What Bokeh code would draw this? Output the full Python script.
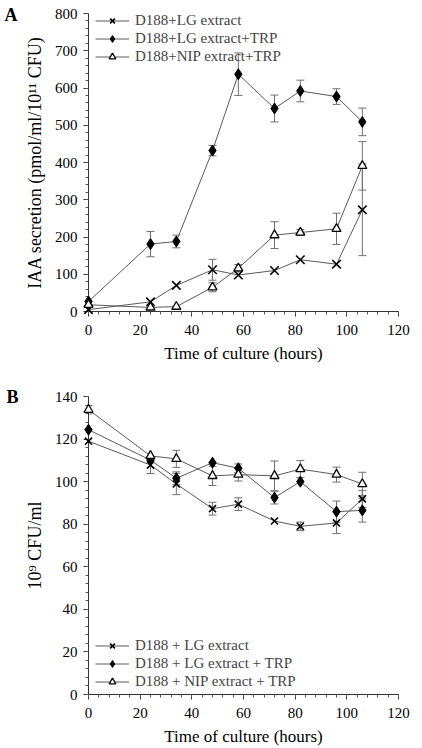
from bokeh.plotting import figure
from bokeh.models import (ColumnDataSource, Whisker, TeeHead, Legend, LegendItem,
                          SingleIntervalTicker)
from bokeh.core.properties import value
from bokeh.layouts import column
from bokeh.embed import file_html
from bokeh.resources import INLINE

# ---- data ----
hours = [0, 24, 34, 48, 58, 72, 82, 96, 106]

# Panel A: IAA secretion (pmol/ml/10^11 CFU)
a_lg = [5, 26, 70, 112, 98, 110, 139, 127, 273]
a_lg_err = [0, 0, 0, 28, 0, 0, 0, 0, 123]
a_lgtrp = [27, 181, 188, 432, 637, 545, 592, 577, 509]
a_lgtrp_err = [0, 34, 17, 14, 57, 36, 29, 21, 37]
a_nip = [18, 11, 13, 65, 116, 205, 212, 222, 391]
a_nip_err = [0, 0, 0, 12, 10, 36, 8, 42, 65]

# Panel B: 10^9 CFU/ml
b_lg = [119, 107.8, 98.9, 87.3, 89.4, 81.5, 79, 80.6, 91.9]
b_lg_err = [0, 4, 5, 3, 3, 0, 2, 5, 4]
b_lgtrp = [124.4, 110.1, 101.6, 108.9, 106.3, 92.5, 100, 85.9, 86.5]
b_lgtrp_err = [0, 0, 3, 0, 2, 3, 0, 5, 5.5]
b_nip = [133.8, 112.1, 110.7, 102.7, 103.3, 102.7, 105.9, 103.3, 98.9]
b_nip_err = [2, 0, 4, 4.5, 3, 7, 4, 3.5, 5.5]

labels_a = ["D188+LG extract", "D188+LG extract+TRP", "D188+NIP extract+TRP"]
labels_b = ["D188 + LG extract", "D188 + LG extract + TRP", "D188 + NIP extract + TRP"]

FONT = "Liberation Serif"
LINE_C = "#5a5a5a"
ERR_C = "#707070"


def style_axes(p, yint):
    p.xaxis.ticker = SingleIntervalTicker(interval=20, num_minor_ticks=5)
    p.yaxis.ticker = SingleIntervalTicker(interval=yint, num_minor_ticks=5)
    for ax in (p.xaxis[0], p.yaxis[0]):
        ax.axis_line_color = "#333333"
        ax.major_tick_line_color = "#333333"
        ax.minor_tick_line_color = "#555555"
        ax.major_tick_in = 0
        ax.major_tick_out = 5
        ax.minor_tick_in = 0
        ax.minor_tick_out = 3
        ax.major_label_text_font = FONT
        ax.major_label_text_font_size = "15px"
        ax.major_label_text_color = "black"
        ax.axis_label_text_font = FONT
        ax.axis_label_text_font_style = "normal"
        ax.axis_label_text_color = "black"
    p.xaxis.axis_label_text_font_size = "17px"
    p.yaxis.axis_label_text_font_size = "18px"
    p.xaxis.major_label_standoff = 8
    p.yaxis.major_label_standoff = 6
    p.xaxis.axis_label_standoff = 6
    p.yaxis.axis_label_standoff = 7
    p.xgrid.visible = False
    p.ygrid.visible = False
    p.outline_line_color = None


def add_series(p, y, err, marker, size, fill, lw):
    src = ColumnDataSource(dict(x=hours, y=y))
    ex = [h for h, e in zip(hours, err) if e > 0]
    up = [v + e for v, e in zip(y, err) if e > 0]
    lo = [v - e for v, e in zip(y, err) if e > 0]
    wsrc = ColumnDataSource(dict(x=ex, upper=up, lower=lo))
    w = Whisker(base="x", upper="upper", lower="lower", source=wsrc, dimension="height",
                line_color=ERR_C, line_width=1,
                upper_head=TeeHead(size=8, line_color=ERR_C, line_width=1),
                lower_head=TeeHead(size=8, line_color=ERR_C, line_width=1))
    p.add_layout(w)
    ln = p.line("x", "y", source=src, line_color=LINE_C, line_width=1)
    ln.level = "overlay"
    sc = p.scatter("x", "y", source=src, marker=marker, size=size,
                   fill_color=fill, line_color="black", line_width=lw)
    sc.level = "overlay"
    return ln, sc


def make_panel(data, errs, labels, ylabel, yend, yint, height, bl, br, bt, bb,
               leg_loc, xsz, letter, letter_dx, letter_dy):
    p = figure(width=422, height=height, x_range=(0, 120), y_range=(0, yend),
               output_backend="svg", toolbar_location=None,
               min_border_left=bl, min_border_right=br, min_border_top=bt,
               min_border_bottom=bb)
    p.background_fill_color = "white"
    p.border_fill_color = "white"
    style_axes(p, yint)
    p.xaxis.axis_label = "Time of culture (hours)"
    p.yaxis.axis_label = ylabel
    specs = [("x", xsz, "black", 1.6), ("diamond", 11, "black", 1), ("triangle", 9, "white", 1.3)]
    items = []
    for y, e, lab, (m, s, f, lw) in zip(data, errs, labels, specs):
        ln, sc = add_series(p, y, e, m, s, f, lw)
        items.append(LegendItem(label=lab, renderers=[ln, sc]))
    leg = Legend(items=items, location=leg_loc, background_fill_alpha=0,
                 border_line_alpha=0, padding=0, margin=0, spacing=1,
                 label_height=17, glyph_height=17, glyph_width=34, label_standoff=6,
                 label_text_font=FONT, label_text_font_size="15px")
    p.add_layout(leg)
    # panel letter anchored at the top-left corner of the plot frame
    t = p.text(x=[p.x_range.start], y=[p.y_range.end], text=[letter],
               x_offset=letter_dx, y_offset=letter_dy,
               text_font=value(FONT), text_font_style="bold",
               text_font_size="18px", text_baseline="middle", text_align="left",
               text_color="black")
    t.level = "overlay"
    return p


pA = make_panel([a_lg, a_lgtrp, a_nip], [a_lg_err, a_lgtrp_err, a_nip_err], labels_a,
                "IAA secretion (pmol/ml/10\u00b9\u00b9 CFU)", 800, 100, 365,
                88, 24, 13, 53, (7, 246), 12, "A", -84, 1)
pB = make_panel([b_lg, b_lgtrp, b_nip], [b_lg_err, b_lgtrp_err, b_nip_err], labels_b,
                "10\u2079 CFU/ml", 140, 20, 383,
                86, 18, 31, 52, (7, 4), 10, "B", -82, 0)

layout = column(pA, pB, spacing=0)
open("out.html", "w").write(file_html(layout, INLINE))
